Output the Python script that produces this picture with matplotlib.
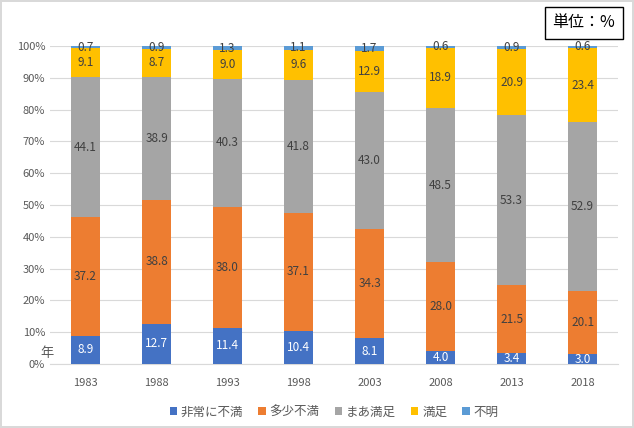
import numpy as np
import matplotlib.pyplot as plt

plt.rcParams['font.family'] = ['Noto Sans CJK JP', 'DejaVu Sans']

years = ['1983', '1988', '1993', '1998', '2003', '2008', '2013', '2018']
series_names = ['非常に不満', '多少不満', 'まあ満足', '満足', '不明']
very_unsat = [8.9, 12.7, 11.4, 10.4, 8.1, 4.0, 3.4, 3.0]
some_unsat = [37.2, 38.8, 38.0, 37.1, 34.3, 28.0, 21.5, 20.1]
fairly_sat = [44.1, 38.9, 40.3, 41.8, 43.0, 48.5, 53.3, 52.9]
satisfied = [9.1, 8.7, 9.0, 9.6, 12.9, 18.9, 20.9, 23.4]
unknown = [0.7, 0.9, 1.3, 1.1, 1.7, 0.6, 0.9, 0.6]

colors = ['#4472C4', '#ED7D31', '#A5A5A5', '#FFC000', '#5B9BD5']
label_colors = ['white', '#404040', '#404040', '#404040', '#404040']

data = np.array([very_unsat, some_unsat, fairly_sat, satisfied, unknown])
totals = data.sum(axis=0)
frac = data / totals * 100

fig = plt.figure(figsize=(6.34, 4.28), dpi=100)
fig.patch.set_edgecolor('#D9D9D9')
fig.patch.set_linewidth(1.5)
ax = fig.add_axes([0.0789, 0.1495, 0.896, 0.743])

x = np.arange(len(years))
bottom = np.zeros(len(years))
for i, name in enumerate(series_names):
    ax.bar(x, frac[i], 0.4, bottom=bottom, color=colors[i], label=name, zorder=3)
    for j in range(len(years)):
        ax.text(x[j], bottom[j] + frac[i][j] / 2, '%.1f' % data[i][j],
                ha='center', va='center', fontsize=8.5, color=label_colors[i], zorder=4)
    bottom += frac[i]

ax.set_xlim(-0.5, len(years) - 0.5)
ax.set_ylim(0, 100)
ax.set_yticks(np.arange(0, 101, 10))
ax.set_yticklabels(['%d%%' % v for v in range(0, 101, 10)])
ax.set_xticks(x)
ax.set_xticklabels(years)
ax.tick_params(axis='both', length=0, labelsize=8, colors='#595959')
ax.tick_params(axis='x', pad=10)
ax.grid(axis='y', color='#D9D9D9', linewidth=0.8, zorder=0)
for s in ['top', 'right', 'left']:
    ax.spines[s].set_visible(False)
ax.spines['bottom'].set_color('#D9D9D9')

fig.text(47 / 634, 1 - 353 / 428, '年', fontsize=9.5, color='#595959', ha='center', va='center')
fig.text(584 / 634, 1 - 23 / 428, '単位：%', fontsize=11.5, ha='center', va='center',
         bbox=dict(boxstyle='square,pad=0.45', facecolor='white', edgecolor='black', linewidth=1))

ax.legend(loc='upper center', bbox_to_anchor=(0.5, -0.095), ncol=5, frameon=False,
          fontsize=9, handlelength=0.6, handleheight=0.6, columnspacing=1.2,
          handletextpad=0.3, labelcolor='#595959')

fig.savefig('out.png', dpi=100)
